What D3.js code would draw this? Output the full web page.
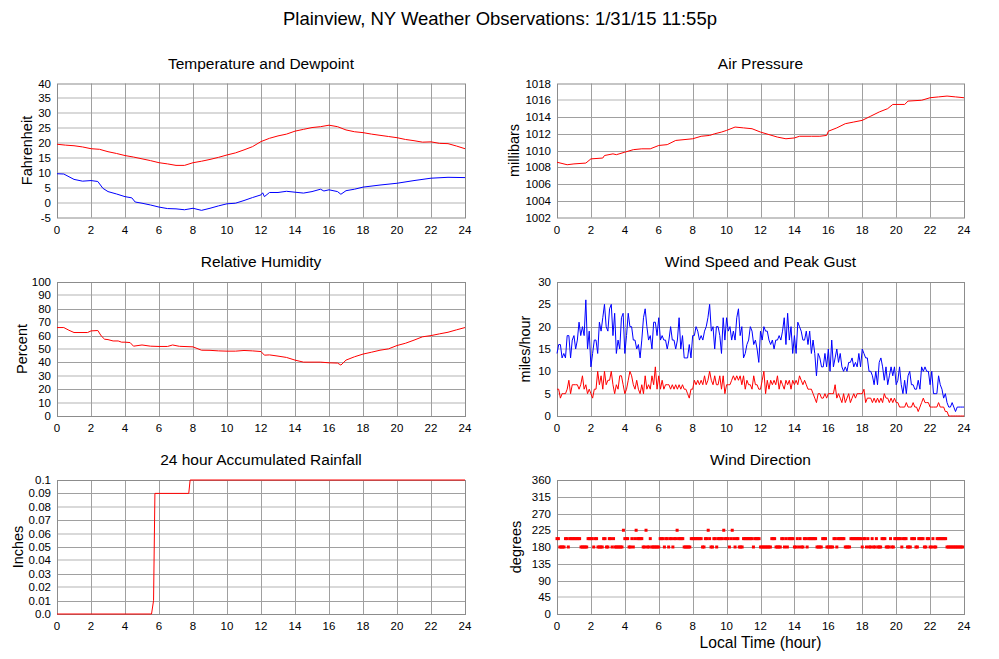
<!DOCTYPE html>
<html>
<head>
<meta charset="utf-8">
<script src="https://cdn.jsdelivr.net/npm/d3@7"></script>
<style>
  body { margin: 0; background: #fff; }
  svg { display: block; font-family: "Liberation Sans", Arial, sans-serif; }
</style>
</head>
<body>
<svg id="chart" width="999" height="659"></svg>
<script>
// ---- data ----
const hourTicks = [0, 2, 4, 6, 8, 10, 12, 14, 16, 18, 20, 22, 24];

// temperature / dewpoint (F)
const tempTimes = [0, 0.5, 1, 1.5, 2, 2.5, 3, 3.5, 4, 4.5, 5, 5.5, 6, 6.5, 7, 7.5, 8, 8.5, 9, 9.5, 10, 10.5, 11, 11.5, 12, 12.5, 13, 13.5, 14, 14.5, 15, 15.5, 16, 16.5, 17, 17.5, 18, 18.5, 19, 19.5, 20, 20.5, 21, 21.5, 22, 22.5, 23, 23.5, 24];
const tempValues = [19.6, 19.3, 19.1, 18.7, 18.1, 17.9, 17.1, 16.5, 15.8, 15.3, 14.7, 14.1, 13.4, 13.0, 12.5, 12.5, 13.4, 13.9, 14.5, 15.2, 16.0, 16.7, 17.7, 18.8, 20.5, 21.6, 22.4, 23.0, 24.0, 24.6, 25.2, 25.5, 26.0, 25.5, 24.4, 23.8, 23.5, 23.0, 22.6, 22.2, 21.8, 21.2, 20.8, 20.3, 20.4, 19.9, 19.8, 19.0, 18.1];
const dewTimes = [0, 0.4, 1, 1.5, 2, 2.4, 2.7, 3, 3.5, 4, 4.4, 4.6, 5, 5.5, 6, 6.5, 7, 7.5, 8, 8.5, 9, 9.5, 10, 10.5, 11, 11.5, 12, 12.1, 12.2, 12.5, 13, 13.5, 14, 14.5, 15, 15.5, 15.7, 16, 16.5, 16.7, 17, 17.5, 18, 19, 20, 21, 22, 23, 24];
const dewValues = [9.7, 9.6, 7.8, 7.2, 7.4, 7.1, 4.8, 3.7, 2.9, 2.0, 1.6, 0.2, -0.2, -0.8, -1.5, -2.0, -2.1, -2.4, -1.9, -2.6, -1.9, -1.1, -0.4, -0.2, 0.7, 1.7, 2.6, 3.3, 2.0, 3.4, 3.4, 3.8, 3.5, 3.2, 3.7, 4.5, 3.9, 4.3, 3.7, 2.8, 4.0, 4.5, 5.2, 5.9, 6.5, 7.4, 8.2, 8.5, 8.4];

// air pressure (mb)
const pressTimes = [0, 0.6, 1, 1.7, 2, 2.7, 2.8, 3.3, 3.5, 4, 4.5, 5, 5.5, 6, 6.5, 7, 8, 8.5, 9, 9.3, 9.7, 10, 10.5, 11, 11.5, 12, 12.5, 13, 13.5, 14, 14.3, 15, 15.5, 15.9, 16, 16.5, 17, 17.5, 18, 18.5, 19, 19.5, 19.8, 20.5, 20.7, 21.5, 22, 22.5, 23, 23.5, 24];
const pressValues = [1008.6, 1008.3, 1008.4, 1008.5, 1009.0, 1009.1, 1009.4, 1009.6, 1009.5, 1009.8, 1010.1, 1010.2, 1010.2, 1010.6, 1010.7, 1011.2, 1011.4, 1011.7, 1011.8, 1012.0, 1012.2, 1012.4, 1012.8, 1012.7, 1012.6, 1012.2, 1011.9, 1011.6, 1011.4, 1011.5, 1011.7, 1011.7, 1011.7, 1011.8, 1012.3, 1012.7, 1013.2, 1013.4, 1013.6, 1014.1, 1014.6, 1015.0, 1015.5, 1015.5, 1015.9, 1016.0, 1016.3, 1016.4, 1016.5, 1016.4, 1016.3];

// relative humidity (%)
const rhTimes = [0, 0.4, 0.7, 1, 1.8, 2, 2.4, 2.6, 2.8, 3, 3.3, 3.6, 3.8, 4, 4.3, 4.5, 5, 5.5, 6, 6.5, 6.8, 7.2, 8, 8.5, 9, 9.5, 10, 10.5, 11, 11.5, 12, 12.2, 12.5, 13, 13.5, 14, 14.5, 15, 15.5, 16, 16.5, 16.7, 17, 17.5, 18, 18.5, 19, 19.5, 20, 20.5, 21, 21.5, 22, 22.5, 23, 23.5, 24];
const rhValues = [66, 66, 64, 62.3, 62.3, 63.5, 63.8, 59.8, 57.3, 57, 56, 56, 55.1, 55.1, 54.8, 52.1, 53, 52.1, 51.9, 51.9, 53, 52, 51.6, 49.1, 49, 48.6, 48.4, 48.4, 48.9, 48.6, 48.1, 45.4, 45.6, 44.7, 43.7, 41.7, 40.2, 40.2, 40.2, 39.7, 39.5, 38, 41.7, 44.2, 46.2, 47.6, 49.1, 50.1, 52.6, 54.3, 56.6, 59.1, 60, 61.3, 62.5, 64.3, 66];

// wind (mph), one reading every 6 minutes, 0:00 .. 24:00
const gustValues = [
  14, 16, 16, 13, 14, 13, 18, 18, 13, 17,
  18, 15, 17, 21, 18, 20, 18, 26, 15, 19,
  11, 14, 17, 17, 14, 21, 19, 22, 25, 20,
  19, 24, 25, 18, 23, 14, 17, 15, 22, 23,
  14, 18, 23, 20, 20, 17, 17, 15, 16, 13,
  17, 22, 24, 20, 17, 18, 15, 21, 21, 18,
  22, 17, 18, 17, 17, 15, 17, 20, 17, 17,
  15, 17, 22, 15, 18, 13, 13, 13, 16, 13,
  18, 18, 20, 19, 17, 18, 17, 19, 20, 22,
  25, 19, 20, 15, 20, 20, 18, 14, 22, 17,
  22, 19, 20, 17, 19, 17, 22, 24, 18, 20,
  13, 14, 16, 17, 20, 19, 16, 17, 15, 12,
  19, 17, 20, 19, 19, 17, 16, 17, 15, 17,
  17, 18, 17, 19, 22, 16, 23, 17, 20, 14,
  18, 14, 21, 20, 19, 17, 17, 19, 16, 19,
  14, 17, 14, 9, 14, 13, 11, 11, 14, 11,
  15, 10, 17, 11, 13, 15, 12, 14, 11, 10,
  11, 10, 12, 12, 13, 11, 12, 11, 14, 11,
  15, 14, 13, 13, 10, 10, 9, 7, 10, 7,
  12, 13, 11, 8, 11, 7, 9, 11, 9, 11,
  7, 8, 11, 7, 5, 8, 5, 9, 10, 7,
  7, 6, 6, 8, 6, 11, 10, 11, 10, 10,
  7, 10, 5, 5, 5, 9, 7, 6, 4, 5,
  3, 2, 2, 3, 2, 1, 2, 2, 2, 2,
  2
];
const speedValues = [
  6, 6, 4, 5, 5, 5, 6, 8, 5, 7,
  7, 7, 7, 6, 7, 9, 6, 7, 5, 6,
  5, 4, 6, 6, 10, 7, 9, 6, 10, 7,
  8, 8, 10, 7, 5, 7, 6, 9, 9, 7,
  5, 6, 8, 10, 9, 7, 6, 8, 6, 5,
  7, 5, 9, 6, 7, 6, 9, 7, 11, 6,
  9, 6, 8, 6, 7, 7, 7, 6, 7, 6,
  7, 6, 7, 6, 7, 6, 6, 5, 4, 6,
  6, 8, 7, 8, 7, 8, 7, 9, 7, 8,
  10, 8, 7, 9, 7, 7, 9, 6, 9, 5,
  7, 7, 7, 8, 9, 8, 9, 8, 9, 7,
  9, 6, 8, 7, 7, 6, 9, 7, 7, 6,
  6, 8, 10, 5, 8, 6, 8, 7, 8, 7,
  9, 6, 8, 7, 6, 8, 7, 8, 6, 8,
  7, 8, 7, 9, 8, 7, 8, 7, 6, 6,
  6, 5, 4, 3, 5, 5, 4, 4, 5, 4,
  5, 5, 5, 5, 7, 4, 5, 4, 3, 5,
  3, 4, 5, 3, 4, 5, 4, 5, 5, 5,
  5, 6, 3, 4, 4, 4, 3, 4, 3, 4,
  3, 4, 3, 5, 4, 4, 3, 4, 3, 4,
  3, 3, 2, 2, 2, 2, 3, 2, 2, 2,
  3, 2, 2, 1, 2, 3, 4, 3, 3, 3,
  2, 2, 2, 2, 2, 3, 2, 2, 2, 1,
  1, 0, 0, 0, 0, 0, 0, 0, 0, 0,
  0
];

// 24h accumulated rainfall (in)
const rainTimes = [0, 5.56, 5.68, 5.76, 7.75, 7.83, 24];
const rainValues = [0, 0, 0.01, 0.09, 0.09, 0.1, 0.1];

// wind direction (deg), one reading every 5 minutes
const dirValues = [
  202.5, 202.5, 180, 180, 180, 180, 202.5, 202.5, 180, 202.5, 202.5, 202.5,
  202.5, 202.5, 202.5, 202.5, 202.5, 180, 180, 180, 180, 180, 202.5, 202.5,
  202.5, 202.5, 180, 202.5, 202.5, 180, 180, 180, 180, 202.5, 202.5, 180,
  180, 202.5, 202.5, 180, 202.5, 180, 180, 180, 180, 180, 180, 225,
  202.5, 202.5, 202.5, 180, 180, 202.5, 180, 202.5, 225, 202.5, 202.5, 202.5,
  202.5, 180, 180, 225, 180, 180, 202.5, 180, 180, 180, 180, 180,
  180, 202.5, 202.5, 202.5, 180, 202.5, 202.5, 180, 202.5, 202.5, 180, 202.5,
  202.5, 225, 202.5, 202.5, 202.5, 202.5, 180, 180, 180, 180, 180, 202.5,
  202.5, 202.5, 202.5, 202.5, 202.5, 202.5, 202.5, 180, 180, 202.5, 202.5, 225,
  202.5, 180, 180, 202.5, 202.5, 180, 202.5, 202.5, 202.5, 202.5, 225, 202.5,
  202.5, 202.5, 180, 202.5, 225, 202.5, 180, 202.5, 202.5, 180, 180, 180,
  202.5, 202.5, 202.5, 202.5, 202.5, 202.5, 202.5, 180, 202.5, 202.5, 202.5, 202.5,
  180, 180, 180, 180, 180, 180, 180, 180, 202.5, 202.5, 202.5, 180,
  180, 180, 180, 202.5, 202.5, 180, 202.5, 180, 202.5, 202.5, 202.5, 202.5,
  180, 180, 202.5, 180, 202.5, 180, 180, 202.5, 202.5, 180, 202.5, 202.5,
  202.5, 202.5, 202.5, 202.5, 180, 180, 180, 180, 202.5, 202.5, 202.5, 180,
  180, 180, 180, 180, 202.5, 202.5, 180, 202.5, 202.5, 202.5, 202.5, 202.5,
  180, 180, 180, 180, 202.5, 202.5, 202.5, 202.5, 202.5, 202.5, 202.5, 202.5,
  180, 202.5, 202.5, 180, 202.5, 180, 180, 202.5, 180, 180, 202.5, 180,
  180, 180, 202.5, 202.5, 202.5, 180, 180, 180, 202.5, 180, 180, 202.5,
  202.5, 202.5, 202.5, 202.5, 180, 202.5, 202.5, 202.5, 180, 180, 180, 202.5,
  202.5, 202.5, 180, 180, 202.5, 202.5, 202.5, 202.5, 180, 180, 202.5, 202.5,
  180, 180, 202.5, 180, 180, 202.5, 202.5, 202.5, 202.5, 202.5, 202.5, 202.5,
  180, 180, 180, 180, 180, 180, 180, 180, 180, 180, 180, 180
];

// y tick labels
const tempTicks = [-5, 0, 5, 10, 15, 20, 25, 30, 35, 40];
const pressTicks = [1002, 1004, 1006, 1008, 1010, 1012, 1014, 1016, 1018];
const rhTicks = [0, 10, 20, 30, 40, 50, 60, 70, 80, 90, 100];
const windTicks = [0, 5, 10, 15, 20, 25, 30];
const rainTicks = [0, 0.01, 0.02, 0.03, 0.04, 0.05, 0.06, 0.07, 0.08, 0.09, 0.1];
const rainLabels = ["0.0", "0.01", "0.02", "0.03", "0.04", "0.05", "0.06", "0.07", "0.08", "0.09", "0.1"];
const dirTicks = [0, 45, 90, 135, 180, 225, 270, 315, 360];

// ---- drawing ----
const svg = d3.select("#chart");

svg.append("text")
  .attr("x", 500).attr("y", 25)
  .attr("text-anchor", "middle")
  .style("font-size", "18.5px")
  .text("Plainview, NY Weather Observations: 1/31/15 11:55p");

const wind6min = d3.range(gustValues.length).map(i => i / 10);
const dir5min = d3.range(dirValues.length).map(i => i / 12);

function panel(o) {
  const x = d3.scaleLinear().domain([0, 24]).range([o.left, o.left + o.width]);
  const y = d3.scaleLinear().domain(d3.extent(o.ticks)).range([o.top + o.height, o.top]);
  const g = svg.append("g");
  const soft = o.soft || [];

  // horizontal grid: some lines come out as soft 2px bands in the original
  g.selectAll(".hg").data(o.ticks.slice(1, -1)).enter().append("line")
    .attr("x1", o.left).attr("x2", o.left + o.width)
    .attr("y1", d => soft.includes(d) ? Math.round(y(d)) : Math.round(y(d)) + 0.5)
    .attr("y2", d => soft.includes(d) ? Math.round(y(d)) : Math.round(y(d)) + 0.5)
    .attr("stroke", d => soft.includes(d) ? "#d9d9d9" : "#a0a0a0")
    .attr("stroke-width", d => soft.includes(d) ? 2 : 1);
  // vertical grid
  g.selectAll(".vg").data(hourTicks.slice(1, -1)).enter().append("line")
    .attr("x1", d => Math.round(x(d)) + 0.5).attr("x2", d => Math.round(x(d)) + 0.5)
    .attr("y1", o.top).attr("y2", o.top + o.height)
    .attr("stroke", "#a0a0a0").attr("stroke-width", 1);
  // frame
  g.append("rect")
    .attr("x", o.left + 0.5).attr("y", o.top + 0.5)
    .attr("width", o.width).attr("height", o.height)
    .attr("fill", "none").attr("stroke", "#8c8c8c");

  // tick labels
  g.selectAll(".yl").data(o.ticks).enter().append("text")
    .attr("x", o.left - 6).attr("y", d => y(d) + 4)
    .attr("text-anchor", "end").style("font-size", "11.5px")
    .text((d, i) => o.labels ? o.labels[i] : d);
  g.selectAll(".xl").data(hourTicks).enter().append("text")
    .attr("x", d => x(d)).attr("y", o.top + o.height + 16)
    .attr("text-anchor", "middle").style("font-size", "11.5px")
    .text(d => d);

  // titles
  g.append("text")
    .attr("x", o.left + o.width / 2).attr("y", o.top - 15)
    .attr("text-anchor", "middle").style("font-size", "15.5px")
    .text(o.title);
  g.append("text")
    .attr("transform", `translate(${o.left - o.labelGap},${o.top + o.height / 2}) rotate(-90)`)
    .attr("text-anchor", "middle").style("font-size", "14.5px")
    .text(o.ylabel);

  return {x, y, g};
}

function drawLine(p, times, values, color) {
  p.g.append("path")
    .datum(times.map((t, i) => [t, values[i]]))
    .attr("fill", "none").attr("stroke", color).attr("stroke-width", 1)
    .attr("d", d3.line().x(d => p.x(d[0])).y(d => p.y(d[1])));
}

const L = 57, R = 557, W = 408, H = 134;

const pTemp = panel({left: L, top: 83.5, width: W, height: H, ticks: tempTicks,
  soft: [0, 5, 10, 15, 20, 25, 30, 35],
  title: "Temperature and Dewpoint", ylabel: "Fahrenheit", labelGap: 25});
drawLine(pTemp, tempTimes, tempValues, "#ff0000");
drawLine(pTemp, dewTimes, dewValues, "#0000ff");

const pPress = panel({left: R, top: 83.5, width: W - 1, height: H, ticks: pressTicks,
  soft: [1016],
  title: "Air Pressure", ylabel: "millibars", labelGap: 38});
drawLine(pPress, pressTimes, pressValues, "#ff0000");

const pRh = panel({left: L, top: 282, width: W, height: H, ticks: rhTicks,
  soft: [10, 30, 50, 70, 90],
  title: "Relative Humidity", ylabel: "Percent", labelGap: 30});
drawLine(pRh, rhTimes, rhValues, "#ff0000");

const pWind = panel({left: R, top: 282, width: W - 1, height: H, ticks: windTicks,
  soft: [5, 15, 25],
  title: "Wind Speed and Peak Gust", ylabel: "miles/hour", labelGap: 27});
drawLine(pWind, wind6min, gustValues, "#0000ff");
drawLine(pWind, wind6min, speedValues, "#ff0000");

const pRain = panel({left: L, top: 480, width: W, height: H, ticks: rainTicks, labels: rainLabels,
  soft: [0.02, 0.04, 0.06, 0.08],
  title: "24 hour Accumulated Rainfall", ylabel: "Inches", labelGap: 34});
drawLine(pRain, rainTimes, rainValues, "#ff0000");

const pDir = panel({left: R, top: 480, width: W - 1, height: H, ticks: dirTicks,
  soft: [45],
  title: "Wind Direction", ylabel: "degrees", labelGap: 36});
pDir.g.selectAll(".dot").data(dirValues).enter().append("rect")
  .attr("x", (d, i) => pDir.x(dir5min[i]) - 1.5)
  .attr("y", d => pDir.y(d) - 1.5)
  .attr("width", 3).attr("height", 3)
  .attr("fill", "#ff0000");

svg.append("text")
  .attr("x", R + (W - 1) / 2).attr("y", 648)
  .attr("text-anchor", "middle").style("font-size", "15.7px")
  .text("Local Time (hour)");
</script>
</body>
</html>
